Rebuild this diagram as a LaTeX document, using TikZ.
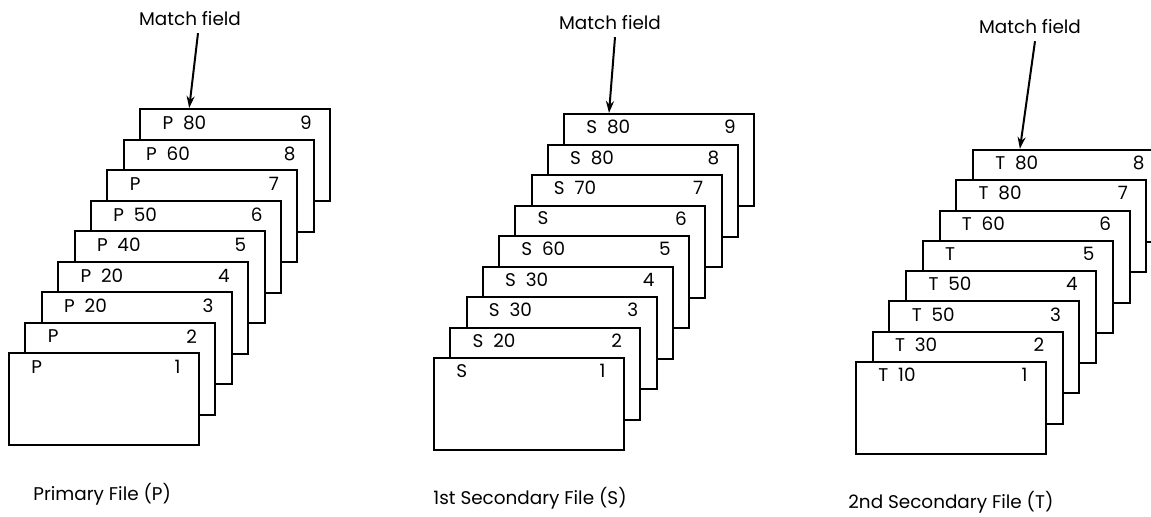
\documentclass[tikz,border=0pt]{standalone}
\usepackage{fontspec}
\setmainfont{Poppins}
\usetikzlibrary{arrows.meta}

\tikzset{
  card/.style={draw, line width=1pt, fill=white, anchor=north west,
    minimum width=95pt, minimum height=46pt, inner sep=0pt},
  key/.style={anchor=west, inner sep=0pt},
  seq/.style={anchor=east, inner sep=0pt},
  pointer/.style={-{Stealth[length=6pt,width=4pt]}, line width=1pt},
}

\begin{document}
\begin{tikzpicture}[x=0.5pt, y=-0.5pt, font=\fontsize{9.2}{10}\selectfont]
\useasboundingbox (0,0) rectangle (1151,516);
% primary file, back card first
\foreach \k/\f in {9/80,8/60,7/,6/50,5/40,4/20,3/20,2/,1/} {
  \node[card] (p\k) at ({8+(\k-1)*16.4},{352-(\k-1)*30.5}) {};
  \node[key] (pk\k) at ([xshift=11.5pt,yshift=-7.5pt]p\k.north west) {P~~\f};
  \node[seq] (pn\k) at ([xshift=-9.5pt,yshift=-7.5pt]p\k.north east) {\k};
}
\node (pmatch) at (190,19) {Match field};
\draw[pointer] ([xshift=4pt]pmatch.south) -- ([xshift=25pt]p9.north west);
\node[key] (pfile) at (33,494) {Primary File (P)};
% 1st secondary file
\foreach \k/\f in {9/80,8/80,7/70,6/,5/60,4/30,3/30,2/20,1/} {
  \node[card] (s\k) at ({433+(\k-1)*16.25},{357-(\k-1)*30.5}) {};
  \node[key] (sk\k) at ([xshift=11.5pt,yshift=-7pt]s\k.north west) {S~~\f};
  \node[seq] (sn\k) at ([xshift=-9.5pt,yshift=-7pt]s\k.north east) {\k};
}
\node (smatch) at (610,23) {Match field};
\draw[pointer] ([xshift=2.5pt]smatch.south) -- ([xshift=23pt]s9.north west);
\node[key] (sfile) at (433,498) {1st Secondary File (S)};
% 2nd secondary file
\foreach \k/\f in {8/80,7/80,6/60,5/,4/50,3/50,2/30,1/10} {
  \node[card] (t\k) at ({855+(\k-1)*16.7},{361-(\k-1)*30.3}) {};
  \node[key] (tk\k) at ([xshift=11.5pt,yshift=-7pt]t\k.north west) {T~~\f};
  \node[seq] (tn\k) at ([xshift=-9.5pt,yshift=-7pt]t\k.north east) {\k};
}
\node (tmatch) at (1030,27) {Match field};
\draw[pointer] ([xshift=2.5pt]tmatch.south) -- ([xshift=24pt]t8.north west);
\node[key] (tfile) at (848,502) {2nd Secondary File (T)};
\end{tikzpicture}
\end{document}
